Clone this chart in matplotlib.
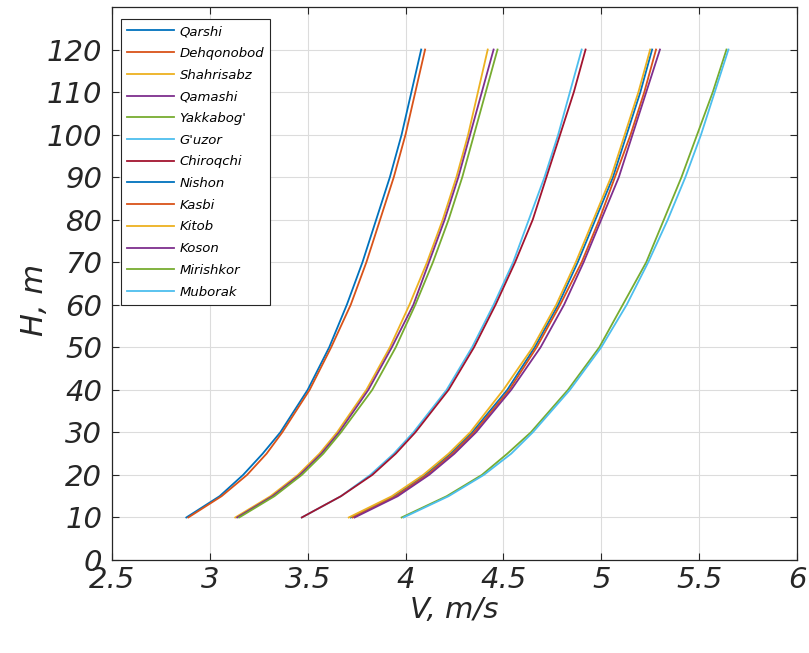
import numpy as np
import matplotlib.pyplot as plt

# heights (m)
H = [10, 15, 20, 25, 30, 40, 50, 60, 70, 80, 90, 100, 110, 120]

# wind speed (m/s) at each height, per station
stations = ['Qarshi', 'Dehqonobod', 'Shahrisabz', 'Qamashi', "Yakkabog'", "G'uzor",
            'Chiroqchi', 'Nishon', 'Kasbi', 'Kitob', 'Koson', 'Mirishkor', 'Muborak']

v_qarshi = [2.88, 3.05, 3.17, 3.27, 3.36, 3.50, 3.61, 3.70, 3.78, 3.85, 3.92, 3.98, 4.03, 4.08]
v_dehqonobod = [2.89, 3.06, 3.19, 3.29, 3.37, 3.51, 3.62, 3.72, 3.80, 3.87, 3.94, 4.00, 4.05, 4.10]
v_shahrisabz = [3.13, 3.31, 3.45, 3.56, 3.65, 3.80, 3.92, 4.02, 4.11, 4.19, 4.26, 4.32, 4.37, 4.42]
v_qamashi = [3.14, 3.32, 3.46, 3.57, 3.66, 3.81, 3.93, 4.04, 4.12, 4.20, 4.27, 4.33, 4.39, 4.45]
v_yakkabog = [3.15, 3.33, 3.47, 3.58, 3.67, 3.83, 3.95, 4.05, 4.14, 4.22, 4.29, 4.35, 4.41, 4.47]
v_guzor = [3.47, 3.67, 3.82, 3.94, 4.04, 4.21, 4.34, 4.45, 4.55, 4.63, 4.71, 4.78, 4.84, 4.90]
v_chiroqchi = [3.47, 3.67, 3.83, 3.95, 4.05, 4.22, 4.35, 4.46, 4.56, 4.65, 4.72, 4.79, 4.86, 4.92]
v_nishon = [3.72, 3.94, 4.10, 4.23, 4.34, 4.52, 4.66, 4.78, 4.88, 4.97, 5.06, 5.13, 5.20, 5.26]
v_kasbi = [3.73, 3.95, 4.11, 4.24, 4.35, 4.53, 4.67, 4.79, 4.90, 4.99, 5.07, 5.15, 5.22, 5.28]
v_kitob = [3.71, 3.93, 4.09, 4.22, 4.33, 4.50, 4.65, 4.77, 4.87, 4.96, 5.05, 5.12, 5.19, 5.25]
v_koson = [3.74, 3.96, 4.12, 4.25, 4.36, 4.54, 4.69, 4.81, 4.91, 5.00, 5.09, 5.16, 5.23, 5.30]
v_mirishkor = [3.98, 4.21, 4.39, 4.52, 4.64, 4.83, 4.99, 5.11, 5.23, 5.32, 5.41, 5.49, 5.57, 5.64]
v_muborak = [3.99, 4.22, 4.40, 4.54, 4.65, 4.84, 5.00, 5.13, 5.24, 5.34, 5.43, 5.51, 5.58, 5.65]

speeds = [v_qarshi, v_dehqonobod, v_shahrisabz, v_qamashi, v_yakkabog, v_guzor,
          v_chiroqchi, v_nishon, v_kasbi, v_kitob, v_koson, v_mirishkor, v_muborak]

# MATLAB default colour order
colors = ['#0072BD', '#D95319', '#EDB120', '#7E2F8E', '#77AC30', '#4DBEEE', '#A2142F']

plt.rcParams['font.family'] = ['DejaVu Sans']

fig = plt.figure(figsize=(8.09, 6.53), dpi=100)
ax = fig.add_axes([0.1384, 0.1424, 0.8467, 0.8469])

for i, (name, v) in enumerate(zip(stations, speeds)):
    ax.plot(v, H, color=colors[i % len(colors)], lw=1.3, label=name)

ax.set_xlim(2.5, 6)
ax.set_ylim(0, 130)
ax.set_xticks(np.arange(2.5, 6.01, 0.5))
ax.set_xticklabels(['2.5', '3', '3.5', '4', '4.5', '5', '5.5', '6'])
ax.set_yticks(np.arange(0, 121, 10))

ax.grid(True, color='#dcdcdc', lw=0.8)
ax.set_axisbelow(True)
ax.tick_params(direction='in', length=5, width=0.8, top=True, right=True,
               labelsize=21, colors='#262626')
ax.tick_params(axis='x', pad=4)
ax.tick_params(axis='y', pad=7)
for lab in ax.get_xticklabels() + ax.get_yticklabels():
    lab.set_fontstyle('italic')
for sp in ax.spines.values():
    sp.set_color('#262626')
    sp.set_linewidth(0.9)

ax.set_xlabel('V, m/s', fontsize=21, fontstyle='italic', color='#262626', labelpad=2)
ax.set_ylabel('H, m', fontsize=22, fontstyle='italic', color='#262626')
ax.yaxis.set_label_coords(-0.092, 0.47)

leg = ax.legend(loc='upper left', bbox_to_anchor=(0.013, 0.978), fontsize=9.5,
                handlelength=3.6, handletextpad=0.4, labelspacing=0.66,
                borderpad=0.45, fancybox=False, framealpha=1, borderaxespad=0)
leg.get_frame().set_edgecolor('#262626')
leg.get_frame().set_linewidth(0.8)
for t in leg.get_texts():
    t.set_fontstyle('italic')

fig.savefig('out.png', dpi=100)
